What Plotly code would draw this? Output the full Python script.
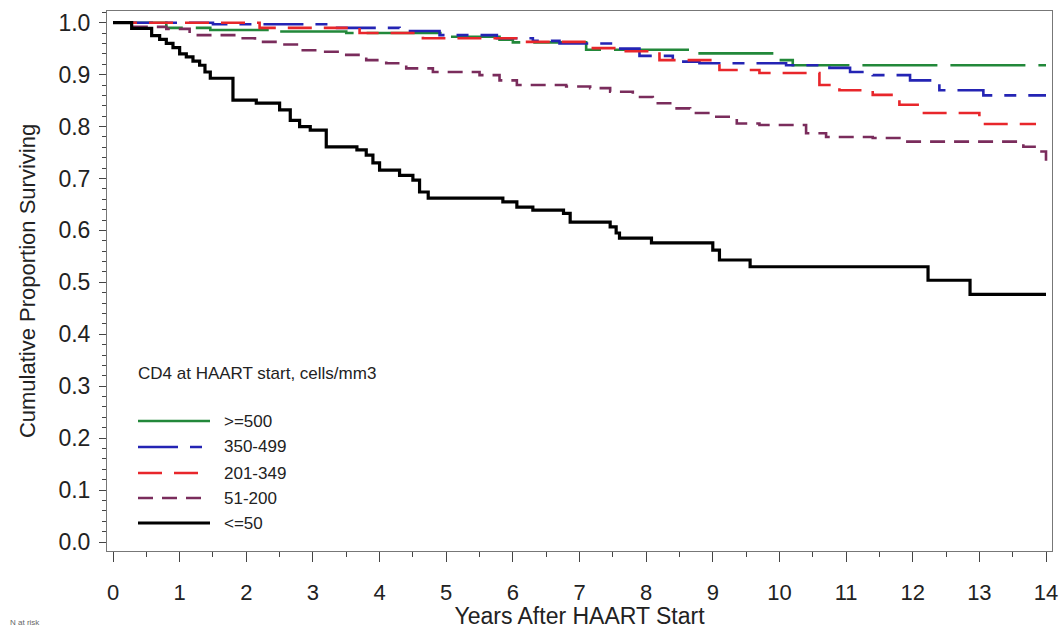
import plotly.graph_objects as go

# ---------------- data ----------------
years_ticks = list(range(0, 15))

green_t = [0, 0.8, 1.46, 2.5, 3.5, 5.0, 5.8, 6.0, 7.1, 8.7, 10.0, 10.2, 14.0]
green_s = [1.0, 0.99, 0.986, 0.983, 0.98, 0.973, 0.967, 0.962, 0.948, 0.941, 0.928, 0.918, 0.918]

blue_t = [0, 1.5, 3.3, 4.3, 4.9, 5.76, 6.3, 6.7, 7.5, 7.9, 8.4, 8.8, 10.1, 10.75, 11.06, 11.4, 11.96, 12.4, 13.06, 14.0]
blue_s = [1.0, 0.997, 0.99, 0.984, 0.976, 0.97, 0.965, 0.96, 0.95, 0.936, 0.925, 0.922, 0.918, 0.913, 0.905, 0.899, 0.889, 0.87, 0.86, 0.86]

red_t = [0, 2.2, 3.7, 4.65, 6.15, 7.1, 7.6, 8.2, 9.1, 9.7, 10.6, 10.9, 11.4, 11.8, 12.1, 13.0, 13.85]
red_s = [1.0, 0.99, 0.98, 0.97, 0.963, 0.951, 0.945, 0.928, 0.909, 0.903, 0.88, 0.87, 0.861, 0.842, 0.826, 0.805, 0.805]

purple_t = [0, 0.3, 0.8, 1.15, 1.9, 2.13, 2.5, 2.8, 3.15, 3.5, 3.8, 4.1, 4.4, 4.8, 5.5, 5.8, 6.06, 6.8, 7.16,
            7.46, 7.8, 8.1, 8.4, 8.66, 9.0, 9.36, 9.7, 10.4, 10.7, 11.4, 11.9, 13.66, 13.9, 14.0]
purple_s = [1.0, 0.992, 0.988, 0.976, 0.97, 0.963, 0.958, 0.947, 0.944, 0.938, 0.928, 0.922, 0.912, 0.905, 0.899,
            0.889, 0.88, 0.877, 0.874, 0.867, 0.857, 0.845, 0.835, 0.826, 0.819, 0.806, 0.803, 0.787, 0.78, 0.778,
            0.771, 0.761, 0.752, 0.727]

black_t = [0, 0.28, 0.58, 0.7, 0.8, 0.9, 1.0, 1.1, 1.2, 1.3, 1.38, 1.46, 1.8, 2.15, 2.5, 2.66, 2.8, 2.96, 3.2,
           3.66, 3.8, 3.9, 4.0, 4.3, 4.5, 4.6, 4.73, 5.85, 6.06, 6.3, 6.76, 6.86, 7.46, 7.55, 7.6, 8.08, 9.0,
           9.1, 9.56, 12.23, 12.86, 14.0]
black_s = [1.0, 0.989, 0.975, 0.968, 0.96, 0.952, 0.94, 0.934, 0.926, 0.918, 0.905, 0.893, 0.851, 0.845, 0.832,
           0.812, 0.80, 0.793, 0.761, 0.755, 0.745, 0.73, 0.716, 0.706, 0.697, 0.674, 0.662, 0.655, 0.645,
           0.639, 0.633, 0.616, 0.607, 0.595, 0.585, 0.576, 0.562, 0.543, 0.530, 0.504, 0.477, 0.477]

series_names = [">=500", "350-499", "201-349", "51-200", "<=50"]
legend_title = "CD4 at HAART start, cells/mm3"

# ---------------- styling ----------------
FONT = "Liberation Sans, Arial, sans-serif"
colors = ["#22883a", "#2424b4", "#e8262b", "#7a2c5c", "#000000"]
dashes = ["75px,13px", "40px,12px,12px,12px", "24px,12px", "15px,9px", "solid"]
widths = [2.6, 2.6, 2.6, 2.6, 3.2]

data_t = [green_t, blue_t, red_t, purple_t, black_t]
data_s = [green_s, blue_s, red_s, purple_s, black_s]

fig = go.Figure()
for name, t, s, c, d, w in zip(series_names, data_t, data_s, colors, dashes, widths):
    fig.add_trace(go.Scatter(x=t, y=s, mode="lines", name=name, line_shape="hv",
                             line=dict(color=c, dash=d, width=w), showlegend=False,
                             hoverinfo="skip"))

# plot-area pixel geometry (for the in-plot legend)
PX0, PX1, PY0, PY1 = 107, 1052, 11, 551
def px(x):
    return (x - PX0) / (PX1 - PX0)
def py(y):
    return (PY1 - y) / (PY1 - PY0)

shapes = []
annotations = []
annotations.append(dict(text=legend_title, xref="paper", yref="paper", x=px(136), y=py(373),
                        xanchor="left", yanchor="middle", showarrow=False,
                        font=dict(family=FONT, size=17, color="#222")))
rows = [421, 447, 473, 498, 523]
for name, c, d, w, r in zip(series_names, colors, dashes, widths, rows):
    shapes.append(dict(type="line", xref="paper", yref="paper", x0=px(138), x1=px(210),
                       y0=py(r), y1=py(r), line=dict(color=c, dash=d, width=w)))
    annotations.append(dict(text=name, xref="paper", yref="paper", x=px(222), y=py(r),
                            xanchor="left", yanchor="middle", showarrow=False,
                            font=dict(family=FONT, size=17, color="#222")))

annotations.append(dict(text="N at risk", xref="paper", yref="paper", x=px(8), y=py(622),
                        xanchor="left", yanchor="middle", showarrow=False,
                        font=dict(family=FONT, size=8, color="#666")))

fig.update_layout(
    width=1061, height=629,
    margin=dict(l=PX0, r=1061 - PX1, t=PY0, b=629 - PY1, autoexpand=False),
    paper_bgcolor="white", plot_bgcolor="white",
    font=dict(family=FONT, color="#222"),
    shapes=shapes, annotations=annotations,
    xaxis=dict(range=[-0.09, 14.09], tickmode="array", tickvals=years_ticks,
               ticktext=[str(v) for v in years_ticks], automargin=False,
               ticks="outside", ticklen=10, tickwidth=1, tickcolor="#444",
               ticklabelstandoff=12,
               minor=dict(dtick=0.5, tick0=0, ticks="outside", ticklen=5, tickcolor="#444"),
               showline=True, mirror=True, linecolor="#777", linewidth=1,
               showgrid=False, zeroline=False,
               tickfont=dict(family=FONT, size=22, color="#222"),
               title=dict(text="Years After HAART Start", standoff=3,
                          font=dict(family=FONT, size=23, color="#222"))),
    yaxis=dict(range=[-0.0173, 1.0225], dtick=0.1, tick0=0, tickformat=".1f",
               automargin=False,
               ticks="outside", ticklen=7, tickwidth=1, tickcolor="#444",
               ticklabelstandoff=4,
               minor=dict(dtick=0.02, tick0=0, ticks="outside", ticklen=4, tickcolor="#444"),
               showline=True, mirror=True, linecolor="#777", linewidth=1,
               showgrid=False, zeroline=False,
               tickfont=dict(family=FONT, size=23, color="#222"),
               title=dict(text="Cumulative Proportion Surviving", standoff=16,
                          font=dict(family=FONT, size=22, color="#222"))),
)

fig.write_html("out.html", config={"displayModeBar": False},
               post_script="document.body.style.margin='0';")
